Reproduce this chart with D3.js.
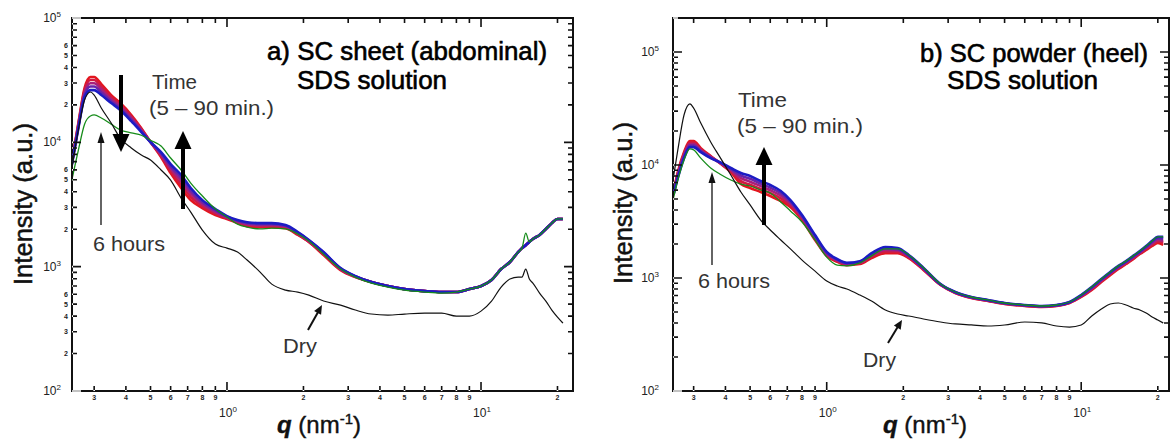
<!DOCTYPE html>
<html>
<head>
<meta charset="utf-8">
<script src="https://cdn.jsdelivr.net/npm/d3@7"></script>
<style>
  html, body { margin: 0; padding: 0; background: #fff; }
  svg { display: block; font-family: "Liberation Sans", Arial, sans-serif; }
</style>
</head>
<body>
<svg id="chart" width="1171" height="441"></svg>
<script>
// ---- a) SC sheet (abdominal), q in nm^-1, intensity in a.u.
const qSheet = [0.245, 0.26, 0.275, 0.29, 0.30, 0.32, 0.35, 0.38, 0.42, 0.46, 0.50, 0.55, 0.60, 0.66, 0.72, 0.80, 0.90, 1.0, 1.1, 1.2, 1.35, 1.5, 1.7, 1.9, 2.1, 2.4, 2.8, 3.2, 3.7, 4.3, 5, 6, 7, 8, 9, 10, 11, 12, 13, 14, 14.5, 15, 15.5, 16, 17, 18, 19, 20, 21];
const sheet5min = [6940, 14300, 27300, 33500, 33500, 29400, 24000, 20700, 16600, 13000, 10050, 7610, 5660, 4290, 3430, 2960, 2600, 2420, 2240, 2120, 2080, 2080, 2040, 1800, 1580, 1240, 939, 825, 752, 698, 660, 636, 625, 625, 660, 698, 780, 957, 1090, 1310, 1410, 1490, 1580, 1670, 1800, 2010, 2240, 2420, 2420];
const sheetA = [6850, 14000, 26200, 31700, 31700, 28000, 23100, 20100, 16100, 12800, 10050, 7780, 5880, 4560, 3640, 3070, 2680, 2450, 2270, 2160, 2120, 2120, 2070, 1820, 1590, 1260, 948, 830, 752, 698, 660, 636, 625, 625, 660, 698, 780, 957, 1090, 1310, 1410, 1490, 1580, 1670, 1800, 2010, 2240, 2420, 2420];
const sheetB = [6750, 13700, 25100, 29900, 29900, 26700, 22200, 19500, 15700, 12500, 10050, 7950, 6150, 4850, 3860, 3180, 2750, 2480, 2300, 2200, 2160, 2160, 2100, 1850, 1610, 1280, 957, 834, 752, 698, 660, 636, 625, 625, 660, 698, 780, 957, 1090, 1310, 1410, 1490, 1580, 1670, 1800, 2010, 2240, 2420, 2420];
const sheetC = [6650, 13300, 24100, 28100, 28100, 25300, 21400, 18800, 15200, 12300, 10050, 8150, 6400, 5150, 4070, 3300, 2830, 2520, 2340, 2240, 2200, 2200, 2130, 1880, 1630, 1300, 966, 837, 752, 698, 660, 636, 625, 625, 660, 698, 780, 957, 1090, 1310, 1410, 1490, 1580, 1670, 1800, 2010, 2240, 2420, 2420];
const sheet90min = [6570, 13000, 23100, 26300, 26300, 24000, 20700, 18200, 14800, 12100, 10050, 8350, 6690, 5460, 4290, 3430, 2910, 2550, 2370, 2280, 2240, 2240, 2160, 1900, 1640, 1310, 975, 840, 752, 698, 660, 636, 625, 625, 660, 698, 780, 957, 1090, 1310, 1410, 1490, 1580, 1670, 1800, 2010, 2240, 2420, 2420];
const sheet6h = [4970, 8670, 14000, 16300, 16600, 15700, 14000, 12600, 11900, 11400, 10400, 9340, 7480, 5990, 4700, 3700, 2910, 2510, 2200, 2080, 2010, 2040, 2010, 1830, 1610, 1260, 957, 825, 738, 685, 648, 625, 613, 625, 660, 698, 780, 957, 1090, 1310, 1410, 1860, 1580, 1670, 1800, 2010, 2240, 2420, 2420];
const sheetDry = [6210, 12600, 21900, 25400, 24000, 18900, 14300, 10800, 9000, 7900, 7200, 5990, 4970, 3560, 2750, 1970, 1520, 1410, 1310, 1130, 905, 724, 648, 625, 591, 529, 491, 448, 416, 408, 416, 423, 423, 400, 400, 439, 529, 685, 795, 825, 825, 957, 795, 738, 613, 529, 448, 393, 352];

// ---- b) SC powder (heel)
const qPowder = [0.25, 0.26, 0.275, 0.29, 0.30, 0.32, 0.35, 0.38, 0.42, 0.46, 0.50, 0.55, 0.60, 0.66, 0.72, 0.80, 0.90, 1.0, 1.1, 1.2, 1.35, 1.5, 1.7, 1.9, 2.1, 2.4, 2.8, 3.2, 3.7, 4.3, 5, 6, 7, 8, 9, 10, 11, 12, 13, 14, 15, 16, 17, 18, 19, 20, 21];
const powder5min = [5770, 8670, 13000, 16300, 16300, 14100, 12000, 10400, 8670, 6790, 6260, 5770, 5320, 4800, 4250, 3260, 2170, 1570, 1390, 1300, 1330, 1500, 1660, 1660, 1500, 1180, 867, 737, 665, 626, 589, 565, 554, 565, 601, 679, 783, 922, 1060, 1200, 1330, 1470, 1630, 1770, 1920, 2040, 1960];
const powderA = [5680, 8420, 12600, 15800, 15800, 13800, 11900, 10450, 8850, 7200, 6690, 6130, 5650, 5070, 4410, 3350, 2230, 1600, 1410, 1320, 1350, 1540, 1710, 1700, 1520, 1190, 871, 741, 668, 629, 592, 568, 557, 568, 604, 686, 795, 936, 1080, 1220, 1350, 1490, 1650, 1810, 1970, 2110, 2050];
const powderB = [5600, 8170, 12200, 15300, 15300, 13500, 11800, 10500, 9040, 7640, 7120, 6500, 5980, 5350, 4570, 3440, 2290, 1630, 1430, 1330, 1370, 1580, 1770, 1750, 1550, 1200, 876, 744, 672, 632, 595, 571, 560, 571, 607, 693, 808, 951, 1100, 1240, 1370, 1520, 1680, 1850, 2020, 2170, 2130];
const powderC = [5510, 7920, 11900, 14900, 14900, 13300, 11600, 10550, 9220, 8070, 7560, 6860, 6320, 5620, 4740, 3520, 2340, 1670, 1450, 1350, 1390, 1620, 1820, 1790, 1580, 1220, 880, 748, 675, 636, 598, 574, 562, 574, 610, 700, 820, 965, 1110, 1260, 1390, 1540, 1700, 1880, 2080, 2240, 2220];
const powder90min = [5430, 7670, 11500, 14400, 14400, 13000, 11500, 10600, 9410, 8500, 7990, 7220, 6650, 5890, 4900, 3610, 2400, 1700, 1470, 1360, 1410, 1660, 1880, 1840, 1600, 1230, 885, 752, 679, 639, 601, 577, 565, 577, 613, 707, 833, 980, 1130, 1280, 1410, 1570, 1730, 1920, 2130, 2310, 2310];
const powder6h = [5110, 7370, 11100, 13900, 13600, 11500, 9410, 8330, 7370, 6790, 6520, 6010, 5650, 4710, 3920, 3130, 2170, 1530, 1300, 1280, 1360, 1570, 1810, 1810, 1600, 1230, 885, 752, 679, 639, 601, 577, 565, 577, 613, 707, 833, 980, 1130, 1280, 1410, 1570, 1730, 1920, 2130, 2310, 2310];
const powderDry = [7830, 13600, 27700, 34700, 31900, 23500, 16000, 11800, 8160, 5770, 4430, 3260, 2660, 2170, 1810, 1440, 1150, 941, 850, 799, 707, 626, 521, 480, 461, 434, 408, 392, 384, 376, 384, 408, 400, 376, 368, 384, 461, 532, 589, 601, 577, 543, 521, 490, 452, 425, 400];

// tick labels
const yMinorDigits = [2, 3, 4, 5, 6];
const xMinorDigits = [2, 3, 4, 5, 6, 7, 8, 9];

const bandColors = ["#e3161e", "#d11a40", "#a8207a", "#6a24a8", "#1c1cc4"];
const greenColor = "#168c1a";

const panels = [
  {
    box: {left: 72, right: 573, top: 18, bottom: 391},
    qDomain: [0.2454, 23.02], iDomain: [100, 1e5],
    q: qSheet,
    band: [sheet5min, sheetA, sheetB, sheetC, sheet90min],
    sixHours: sheet6h, dry: sheetDry,
    yMinorLabels: true, yLabelGap: 11,
    yTitle: [32, 204], xTitle: [277, 433],
    titles: [
      {t: "a) SC sheet (abdominal)", x: 267, y: 60, w: 280},
      {t: "SDS solution", x: 297, y: 89, w: 150}
    ],
    notes: [
      {t: "Time", x: 152, y: 89, w: 45},
      {t: "(5 \u2013 90 min.)", x: 149, y: 115, w: 125},
      {t: "6 hours", x: 93, y: 251, w: 72},
      {t: "Dry", x: 283, y: 353, w: 34}
    ],
    bigArrows: [[121, 75, 121, 152], [183, 209, 183, 131]],
    thinArrows: [[101, 225, 101, 132]],
    dryArrow: [308, 330, 322, 305]
  },
  {
    box: {left: 673, right: 1169, top: 18, bottom: 391},
    qDomain: [0.2489, 22.13], iDomain: [100, 2.0e5],
    q: qPowder,
    band: [powder5min, powderA, powderB, powderC, powder90min],
    sixHours: powder6h, dry: powderDry,
    yMinorLabels: false, yLabelGap: 14,
    yTitle: [632, 203], xTitle: [883, 433],
    titles: [
      {t: "b) SC powder (heel)", x: 920, y: 62, w: 228},
      {t: "SDS solution", x: 947, y: 89, w: 151}
    ],
    notes: [
      {t: "Time", x: 738, y: 107, w: 49},
      {t: "(5 \u2013 90 min.)", x: 737, y: 133, w: 126},
      {t: "6 hours", x: 698, y: 288, w: 72},
      {t: "Dry", x: 863, y: 367, w: 33}
    ],
    bigArrows: [[764, 225, 764, 147]],
    thinArrows: [[712, 265, 712, 172]],
    dryArrow: [888, 343, 902, 320]
  }
];

const svg = d3.select("#chart");

const isMajor = v => Math.abs(Math.log10(v) - Math.round(Math.log10(v))) < 1e-6;
const lead = v => Math.round(v / Math.pow(10, Math.floor(Math.log10(v) + 1e-9)));

// arrow: shaft from (x1,y1) to tip (x2,y2) with a filled head
function arrow(g, a, shaftW, headW, headL, color) {
  const [x1, y1, x2, y2] = a;
  const len = Math.hypot(x2 - x1, y2 - y1);
  const ux = (x2 - x1) / len, uy = (y2 - y1) / len;
  const bx = x2 - ux * headL, by = y2 - uy * headL;
  g.append("line")
    .attr("x1", x1).attr("y1", y1).attr("x2", bx + ux).attr("y2", by + uy)
    .attr("stroke", color).attr("stroke-width", shaftW);
  g.append("path")
    .attr("d", `M${x2},${y2}L${bx - uy * headW / 2},${by + ux * headW / 2}L${bx + uy * headW / 2},${by - ux * headW / 2}Z`)
    .attr("fill", color);
}

panels.forEach((p, pi) => {
  const b = p.box;
  const x = d3.scaleLog().domain(p.qDomain).range([b.left, b.right]);
  const y = d3.scaleLog().domain(p.iDomain).range([b.bottom, b.top]);
  const g = svg.append("g");

  // curves, kept inside the frame
  const clipId = "plotclip" + pi;
  svg.append("defs").append("clipPath").attr("id", clipId)
    .append("rect").attr("x", b.left).attr("y", b.top)
    .attr("width", b.right - b.left).attr("height", b.bottom - b.top);

  const line = d3.line()
    .x(d => x(d[0]))
    .y(d => y(d[1]))
    .curve(d3.curveMonotoneX);
  const curves = g.append("g").attr("clip-path", `url(#${clipId})`);
  const toPts = vals => p.q.map((q, i) => [q, vals[i]]);

  p.band.forEach((vals, i) => {
    curves.append("path").datum(toPts(vals))
      .attr("d", line).attr("fill", "none")
      .attr("stroke", bandColors[i]).attr("stroke-width", 2.6)
      .attr("stroke-linejoin", "round");
  });
  curves.append("path").datum(toPts(p.sixHours))
    .attr("d", line).attr("fill", "none")
    .attr("stroke", greenColor).attr("stroke-width", 1.3);
  curves.append("path").datum(toPts(p.dry))
    .attr("d", line).attr("fill", "none")
    .attr("stroke", "#111").attr("stroke-width", 1.2);

  // frame and inward ticks, drawn as filled shapes
  const xt = x.ticks();
  const yt = y.ticks();
  const xMajor = xt.filter(isMajor), yMajor = yt.filter(isMajor);
  const w = 2, tw = 1.6;
  let d = `M${b.left - w / 2},${b.top - w / 2}H${b.right + w / 2}V${b.bottom + w / 2}H${b.left - w / 2}Z`
        + `M${b.left + w / 2},${b.top + w / 2}V${b.bottom - w / 2}H${b.right - w / 2}V${b.top + w / 2}Z`;
  xt.forEach(v => {
    const len = isMajor(v) ? 9 : 5, px = x(v) - tw / 2;
    d += `M${px},${b.bottom}h${tw}v${-len}h${-tw}Z`;
    d += `M${px},${b.top}h${tw}v${len}h${-tw}Z`;
  });
  yt.forEach(v => {
    const len = isMajor(v) ? 9 : 5, py = y(v) - tw / 2;
    d += `M${b.left},${py}v${tw}h${len}v${-tw}Z`;
    d += `M${b.right},${py}v${tw}h${-len}v${-tw}Z`;
  });
  g.append("path").attr("d", d).attr("fill", "#111").attr("fill-rule", "nonzero");

  // minor tick digits
  g.append("g").selectAll("text")
    .data(xt.filter(v => !isMajor(v) && xMinorDigits.includes(lead(v))))
    .join("text")
    .attr("x", v => x(v)).attr("y", 400)
    .attr("text-anchor", "middle").attr("fill", "#222")
    .style("font-size", "7px").style("font-weight", "bold")
    .text(v => lead(v));
  if (p.yMinorLabels) {
    g.append("g").selectAll("text")
      .data(yt.filter(v => !isMajor(v) && yMinorDigits.includes(lead(v))))
      .join("text")
      .attr("x", b.left - 4).attr("y", v => y(v) + 2.5)
      .attr("text-anchor", "end").attr("fill", "#222")
      .style("font-size", "7px").style("font-weight", "bold")
      .text(v => lead(v));
  }

  // major labels 10^n
  yMajor.forEach(v => {
    const t = g.append("text")
      .attr("x", b.left - p.yLabelGap).attr("y", y(v) + 4)
      .attr("text-anchor", "end").attr("fill", "#222").style("font-size", "12px");
    t.append("tspan").text("10");
    t.append("tspan").attr("dy", -5).style("font-size", "8px").text(Math.round(Math.log10(v)));
  });
  xMajor.forEach(v => {
    const t = g.append("text")
      .attr("x", x(v) + 1).attr("y", 417)
      .attr("text-anchor", "middle").attr("fill", "#222").style("font-size", "12px");
    t.append("tspan").text("10");
    t.append("tspan").attr("dy", -5).style("font-size", "8px").text(Math.round(Math.log10(v)));
  });

  // axis titles
  g.append("text")
    .attr("transform", `translate(${p.yTitle[0]},${p.yTitle[1]}) rotate(-90)`)
    .attr("text-anchor", "middle").attr("fill", "#111")
    .attr("stroke", "#111").attr("stroke-width", 0.5)
    .style("font-size", "25px")
    .attr("textLength", 162).attr("lengthAdjust", "spacingAndGlyphs")
    .text("Intensity (a.u.)");
  const xt2 = g.append("text")
    .attr("x", p.xTitle[0]).attr("y", p.xTitle[1])
    .attr("fill", "#111").attr("stroke", "#111").attr("stroke-width", 0.4)
    .style("font-size", "24px");
  xt2.append("tspan").style("font-weight", "bold").style("font-style", "italic").text("q");
  xt2.append("tspan").text(" (nm");
  xt2.append("tspan").attr("dy", -9).style("font-size", "15px").text("-1");
  xt2.append("tspan").attr("dy", 9).text(")");

  // panel titles and annotations
  p.titles.forEach(t => {
    g.append("text").attr("x", t.x).attr("y", t.y)
      .attr("fill", "#000").attr("stroke", "#000").attr("stroke-width", 0.6)
      .style("font-size", "25px")
      .attr("textLength", t.w).attr("lengthAdjust", "spacingAndGlyphs")
      .text(t.t);
  });
  p.notes.forEach(t => {
    g.append("text").attr("x", t.x).attr("y", t.y)
      .attr("fill", "#333").style("font-size", "21px")
      .attr("textLength", t.w).attr("lengthAdjust", "spacingAndGlyphs")
      .text(t.t);
  });

  p.bigArrows.forEach(a => arrow(g, a, 4, 17, 18, "#000"));
  p.thinArrows.forEach(a => arrow(g, a, 1.3, 7, 11, "#111"));
  arrow(g, p.dryArrow, 2, 8, 9, "#111");
});
</script>
</body>
</html>
